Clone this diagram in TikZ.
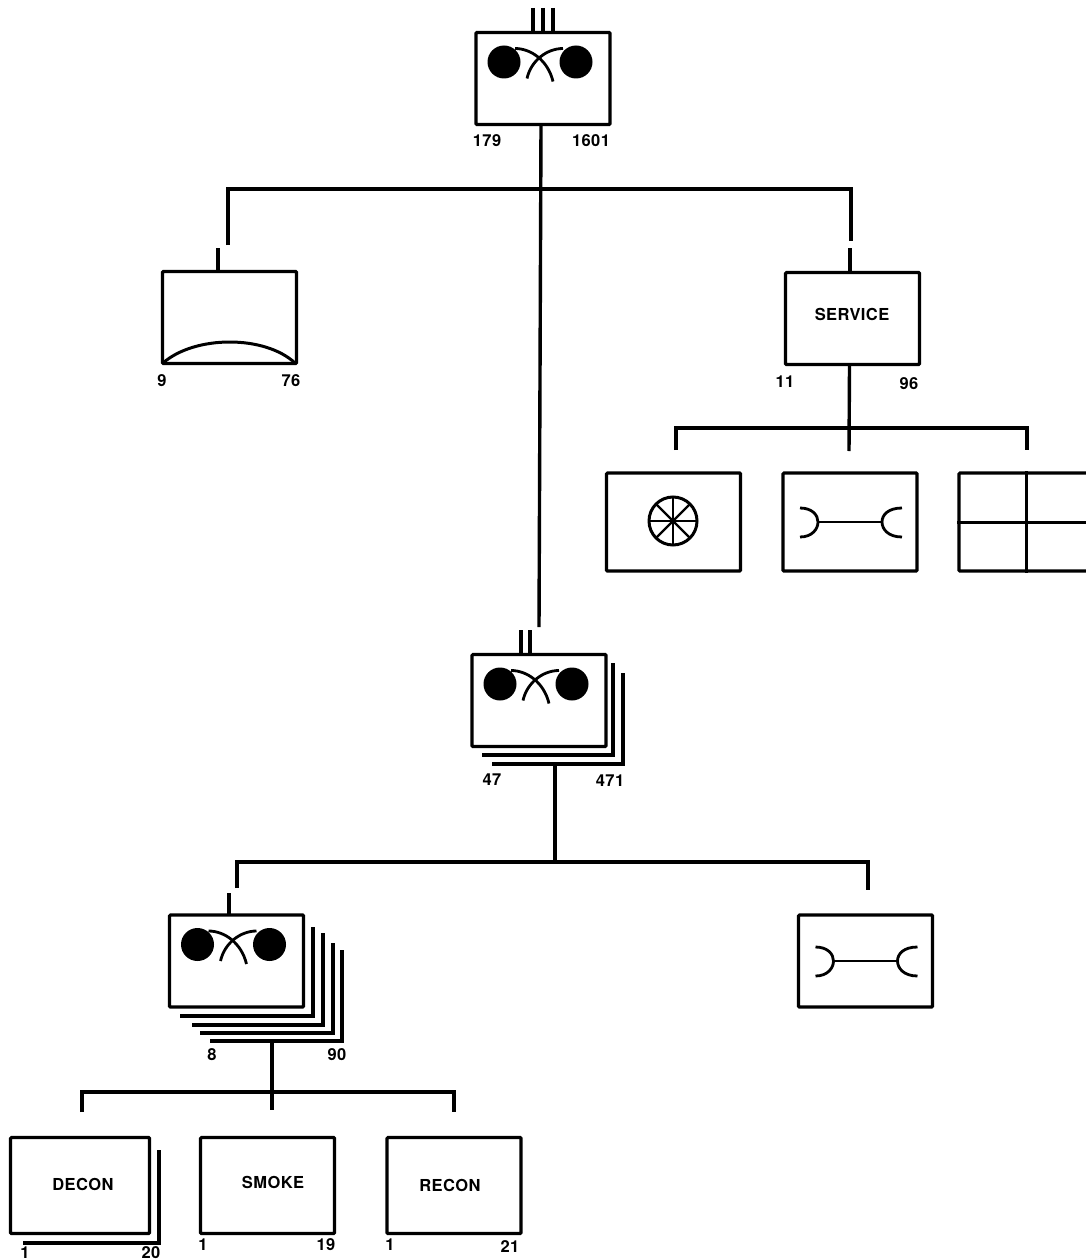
\documentclass[tikz,border=0pt]{standalone}
\usepackage{fontspec}
\setmainfont[LetterSpace=2.5]{TeX Gyre Heros}
\usepackage{tikz}
\usetikzlibrary{calc}
\tikzset{
  unitbox/.style={draw, line width=3.2pt, minimum width=134pt, minimum height=92pt, inner sep=0pt, rounded corners=1pt},
  unitname/.style={inner sep=0pt, font=\fontsize{16.5}{18}\selectfont\bfseries},
  strength/.style={inner sep=0pt, font=\fontsize{16.5}{18}\selectfont\bfseries},
  feed/.style={line width=3.4pt},
  layer/.style={line width=3.2pt},
  pics/reelsym/.style={code={
    \fill (-39,-16.5) circle (16.5);
    \fill (33,-16.5) circle (16.5);
    \draw[line width=2.8pt] (-28,-30) .. controls (-12,-30) and (5,-18) .. (10,3);
    \draw[line width=2.8pt] (20,-30) .. controls (4,-30) and (-12,-18) .. (-16,0);
  }},
  pics/wrenchsym/.style={code={
    \draw[line width=2.8pt] (-50,-14) .. controls (-38,-14) and (-32,-7) .. (-32,0) .. controls (-32,7) and (-38,15) .. (-50,15);
    \draw[line width=2.8pt] (-32,0) -- (32,0);
    \draw[line width=2.8pt] (52,-14) .. controls (38,-14) and (32,-7) .. (32,0) .. controls (32,7) and (38,15) .. (52,15);
  }}
}

\begin{document}
\begin{tikzpicture}[x=1pt, y=-1pt]
  \useasboundingbox (0,0) rectangle (1085,1260);

  % battalion and its two companies
  \node[unitbox] (bn) at (543,78.5) {};
  \pic at (bn.center) {reelsym};
  \node[unitbox] (hq) at (229.5,317.5) {};
  \draw[line width=3pt] (163,363) .. controls (195,335) and (265,335) .. (295,363);
  \node[unitbox] (svc) at (852.5,318.5) {};
  \node[unitname] (svcT) at (852,314) {SERVICE};
  \node[strength] (bnA) at (487,141) {179};
  \node[strength] (bnB) at (591,141) {1601};
  \node[strength] (hqA) at (162,381) {9};
  \node[strength] (hqB) at (291,381) {76};
  \node[strength] (svcA) at (785,382) {11};
  \node[strength] (svcB) at (909,384) {96};

  \coordinate (bnIn1) at (533,8);
  \coordinate (bnIn2) at (543,8);
  \coordinate (bnIn3) at (553,8);
  \draw[feed] (bnIn1) -- (bnIn1 |- bn.north);
  \draw[feed] (bnIn2) -- (bnIn2 |- bn.north);
  \draw[feed] (bnIn3) -- (bnIn3 |- bn.north);

  \coordinate (trunkTop) at (541,125);
  \coordinate (trunkEnd) at (539,627);
  \draw[feed] (trunkTop) -- (trunkEnd);
  \coordinate (busL) at (228,189);
  \coordinate (busR) at (851,189);
  \draw[feed] (228,245) -- (busL) -- (busR) -- (851,241);
  \draw[feed] (218,248) -- (218,270);
  \draw[feed] (850,248) -- (850,272);

  % service company row
  \node[unitbox, minimum height=98pt] (svcMed) at (673.5,522) {};
  \node[unitbox, minimum height=98pt] (svcMnt) at (850,522) {};
  \node[unitbox, minimum height=98pt] (svcSup) at (1026,522) {};
  \pic at (svcMnt.center) {wrenchsym};
  \draw[line width=3pt] (673,521) circle (24);
  \foreach \a in {0,45,...,315}
    \draw[line width=2.4pt] (673,521) -- ++(\a:24);
  \draw[line width=3pt] (svcSup.north) -- (svcSup.south);
  \draw[line width=3pt] (svcSup.west) -- (svcSup.east);
  \draw[feed] (svc.south) ++(-3,0) -- (849,451);
  \draw[feed] (676,450) -- (676,428) -- (1027,428) -- (1027,450);

  % company
  \foreach \l/\r/\t/\b in {482/613/663/755, 492/623/673/764}
    \draw[layer] (\l,\b) -- (\r,\b) -- (\r,\t);
  \node[unitbox, fill=white] (coy) at (539,700.5) {};
  \pic at (coy.center) {reelsym};
  \node[strength] (coyA) at (492,780) {47};
  \node[strength] (coyB) at (610,781) {471};
  \draw[feed] (521,630) -- (521,653);
  \draw[feed] (530,630) -- (530,653);
  \coordinate (coyOut) at (555,764);
  \coordinate (coyBus) at (555,862);
  \draw[feed] (coyOut) -- (coyBus);
  \draw[feed] (237,888) -- (237,862) -- (868,862) -- (868,890);
  \draw[feed] (229,893) -- (229,915);
  \node[unitbox] (coyMnt) at (865.5,961) {};
  \pic at (coyMnt.center) {wrenchsym};

  % platoons
  \foreach \l/\r/\t/\b in {180/313/927/1016, 192/323/933/1025, 200/333/943/1033, 210/342/950/1041}
    \draw[layer] (\l,\b) -- (\r,\b) -- (\r,\t);
  \node[unitbox, fill=white] (plt) at (236.5,961) {};
  \pic at (plt.center) {reelsym};
  \node[strength] (pltA) at (212,1055) {8};
  \node[strength] (pltB) at (337,1055) {90};
  \coordinate (pltOut) at (272,1041);
  \draw[feed] (pltOut) -- (272,1110);
  \draw[feed] (82,1112) -- (82,1092) -- (454,1092) -- (454,1112);

  % bottom row
  \draw[layer] (23,1243) -- (159,1243) -- (159,1150);
  \node[unitbox, minimum width=139pt, minimum height=96pt, fill=white] (dec) at (80,1185.5) {};
  \node[unitbox, minimum height=96pt] (smk) at (267.5,1185.5) {};
  \node[unitbox, minimum height=96pt] (rec) at (454,1185.5) {};
  \node[unitname] (decT) at (83,1184) {DECON};
  \node[unitname] (smkT) at (273,1182) {SMOKE};
  \node[unitname] (recT) at (450,1185) {RECON};
  \node[strength] (decA) at (25,1252.5) {1};
  \node[strength] (decB) at (151,1252.5) {20};
  \node[strength] (smkA) at (203,1245) {1};
  \node[strength] (smkB) at (326,1245) {19};
  \node[strength] (recA) at (390,1245) {1};
  \node[strength] (recB) at (510,1247) {21};
\end{tikzpicture}
\end{document}
